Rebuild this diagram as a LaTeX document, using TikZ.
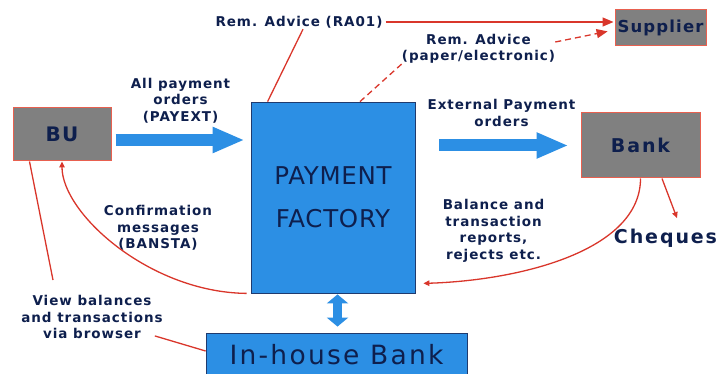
\documentclass[tikz,border=0pt]{standalone}
\usepackage{fontspec}
\setmainfont{DejaVu Sans}
\newfontfamily\labfont{DejaVu Sans}[LetterSpace=7]
\newfontfamily\bigfont{DejaVu Sans}[LetterSpace=10]
\newfontfamily\pffont{DejaVu Sans}[LetterSpace=3]
\newfontfamily\ihfont{DejaVu Sans}[LetterSpace=8.5]
\usetikzlibrary{arrows.meta}
\definecolor{navy}{HTML}{0E1F4D}
\definecolor{boxblue}{HTML}{2C8FE4}
\definecolor{boxborder}{HTML}{1F3A6E}
\definecolor{boxgray}{HTML}{808080}
\definecolor{salmon}{HTML}{E8604F}
\definecolor{linered}{HTML}{D9362B}
\tikzset{
  graybox/.style={fill=boxgray, draw=salmon, line width=1pt, text=navy, inner sep=0pt},
  bluebox/.style={fill=boxblue, draw=boxborder, line width=0.8pt, text=navy, inner sep=0pt, align=center},
  lab/.style={text=navy, inner sep=0pt, align=center, font=\labfont\bfseries\fontsize{13.5}{16.5}\selectfont},
  redline/.style={draw=linered, line width=1.3pt},
  bigtip/.style={-{Triangle[length=11pt,width=9pt]}},
  smalltip/.style={-{Triangle[length=6pt,width=5.5pt]}},
  fatarrow/.style={draw=boxblue, line width=12pt, -{Triangle[length=32pt,width=24pt]}},
  dblarrow/.style={draw=boxblue, line width=9pt, {Triangle[length=9pt,width=21pt]}-{Triangle[length=9pt,width=21pt]}},
}
\begin{document}
\begin{tikzpicture}[x=1pt,y=-1pt]
\useasboundingbox (0,0) rectangle (720,374);
% boxes
\node[graybox, minimum width=98pt, minimum height=53pt, font=\labfont\bfseries\fontsize{20}{24}\selectfont] (bu) at (62,134.5) {BU};
\node[graybox, minimum width=91pt, minimum height=36pt, font=\labfont\bfseries\fontsize{16.5}{20}\selectfont] (sup) at (660.5,28) {Supplier};
\node[graybox, minimum width=119pt, minimum height=65pt, font=\bigfont\bfseries\fontsize{19}{23}\selectfont] (bank) at (640.5,145.5) {Bank};
\node[bluebox, minimum width=164pt, minimum height=191pt, font=\pffont\fontsize{24.5}{43}\selectfont] (pf) at (333,197.5) {PAYMENT\\FACTORY};
\node[bluebox, minimum width=261pt, minimum height=44pt, font=\ihfont\fontsize{26.5}{30}\selectfont] (ih) at (336.5,355) {In-house Bank};
% labels
\node[lab] (ra) at (299,22) {Rem. Advice (RA01)};
\node[lab] (pa) at (478.5,49) {Rem. Advice\\(paper/electronic)};
\node[lab] (ap) at (180.5,100.5) {All payment\\orders\\(PAYEXT)};
\node[lab] (ext) at (501.5,113) {External Payment\\orders};
\node[lab] (conf) at (158,228) {Confirmation\\messages\\(BANSTA)};
\node[lab] (bal) at (493.5,231) {Balance and\\transaction\\reports,\\rejects etc.};
\node[lab] (vb) at (92,317) {View balances\\and transactions\\via browser};
\node[text=navy, inner sep=0pt, font=\bigfont\bfseries\fontsize{19}{23}\selectfont] (chq) at (665.5,238) {Cheques};
\coordinate (vbtop) at (53,280);
% fat arrows
\draw[fatarrow, shorten <=4pt, shorten >=6pt] ([yshift=-5.5pt]bu.east) -- ([yshift=-5.5pt]bu.east -| pf.west);
\draw[fatarrow, shorten <=24pt, shorten >=12pt] (pf.east |- bank.west) -- (bank.west);
\draw[dblarrow, shorten <=1pt, shorten >=6pt] ([xshift=4.5pt]pf.south) -- ([xshift=4.5pt]pf.south |- ih.north);
% red connectors
\draw[redline, bigtip, shorten <=3pt, shorten >=1pt] (ra.east) -- (ra.east -| sup.west);
\draw[redline] ([xshift=4pt,yshift=-1pt]ra.south) -- ([xshift=17pt]pf.north west);
\draw[redline, dash pattern=on 6pt off 4pt] ([xshift=27pt]pf.north) -- (pa.south west);
\draw[redline, dash pattern=on 6pt off 4pt, bigtip, shorten >=7pt] ([yshift=7pt]pa.east) -- ([yshift=-2pt]sup.west);
\draw[redline, smalltip] (bank.south) .. controls +(0,72) and +(97,-3) .. ([xshift=8pt,yshift=10pt]pf.south east);
\draw[redline, smalltip] ([xshift=21.5pt]bank.south) -- ([xshift=11.5pt,yshift=10.5pt]chq.north);
\draw[redline, smalltip] ([xshift=-4pt]pf.south west) .. controls +(-97,-1) and +(0,52) .. (bu.south);
\draw[redline] ([xshift=17pt]bu.south west) -- (vbtop);
\draw[redline] ([xshift=-8pt,yshift=3pt]vb.south east) -- ([yshift=4pt]ih.west);
\end{tikzpicture}
\end{document}
